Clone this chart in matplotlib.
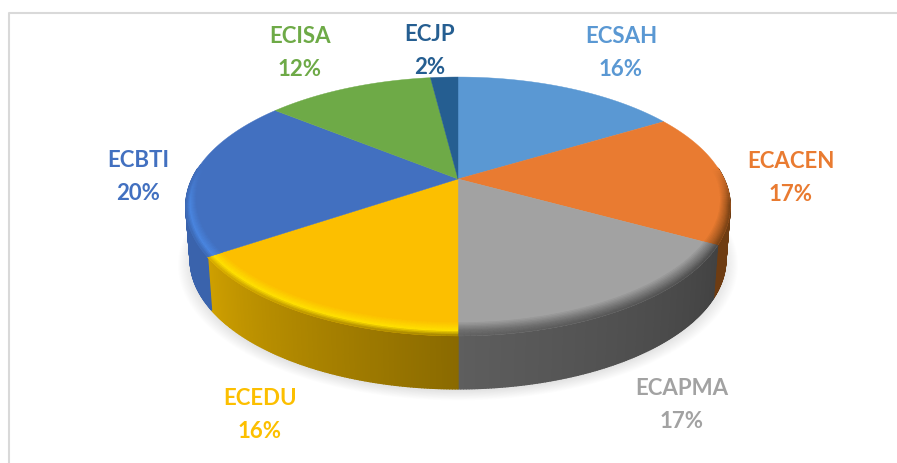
import numpy as np
import matplotlib
matplotlib.use('Agg')
import matplotlib.pyplot as plt
from matplotlib.collections import PolyCollection
from matplotlib.colors import to_rgb
from matplotlib.patches import Polygon

names = ['ECSAH', 'ECACEN', 'ECAPMA', 'ECEDU', 'ECBTI', 'ECISA', 'ECJP']
values = [16.4, 16.6, 17.0, 15.6, 20.2, 12.2, 2.0]
face_colors = ['#5A98D3', '#E97B31', '#A2A2A2', '#FCBF00', '#4270C0', '#6EAA47', '#255E91']
rim_colors = ['#5A98D3', '#A85A20', '#6E6E6E', '#FFE000', '#4A86E0', '#6EAA47', '#255E91']
wall_left = ['#3A6A96', '#6E3C12', '#5E5E5E', '#CFA000', '#3A63AC', '#4A7030', '#1A4060']
wall_right = ['#3A6A96', '#6E3C12', '#424242', '#8A6A00', '#3A63AC', '#4A7030', '#1A4060']
label_pos = [(621, 53), (791, 178), (682, 405), (260, 415), (138, 177), (300, 53), (430, 51)]

# perspective disk, angle runs clockwise from 12 o'clock
cx, cy = 458, 180
persp = 0.212
fx, fy = 266, 123.6
depth = 53


def top_pt(theta, r=1.0):
    u = r * np.sin(theta)
    v = r * np.cos(theta)
    w = 1 + persp * v
    return cx + fx * u / w, cy - fy * v / w


def bottom_pt(theta):
    x, y = top_pt(theta)
    return cx + (x - cx) * 0.984, y + depth


def wall_color(i, t):
    a, b = np.array(to_rgb(wall_left[i])), np.array(to_rgb(wall_right[i]))
    f = (t - edges[i]) / (edges[i + 1] - edges[i])
    return b * (1 - f) + a * f


def rim_inner(t):
    # bevel is wider at the front than at the sides
    return 1 - (0.03 + 0.045 * max(-np.cos(t), 0))


fig = plt.figure(figsize=(8.97, 4.64), dpi=100)
ax = fig.add_axes([0, 0, 1, 1])
ax.set_xlim(0, 897)
ax.set_ylim(464, 0)
ax.axis('off')

# panel border
ax.plot([8.5, 8.5, 897], [464, 14, 14], color='#D9D9D9', lw=1.5, zorder=1)

edges = np.cumsum([0] + values) / sum(values) * 2 * np.pi

# soft shadow under the pie
all_t = np.linspace(0, 2 * np.pi, 240)
bx, by = bottom_pt(all_t)
for grow in np.linspace(1.045, 0.995, 14):
    sx = cx + (bx - cx) * grow
    sy = 200 + (by - 200) * grow + 3
    ax.add_patch(Polygon(np.c_[sx, sy], closed=True, fc='#808080', ec='none', alpha=0.016, zorder=2))

# side wall, only the front half shows
wall_polys, wall_cols = [], []
for i in range(len(values)):
    lo, hi = max(edges[i], np.radians(85)), min(edges[i + 1], np.radians(275))
    if hi <= lo:
        continue
    steps = np.linspace(lo, hi, max(int((hi - lo) * 120), 2))
    for t0, t1 in zip(steps[:-1], steps[1:]):
        x0, y0 = top_pt(t0)
        x1, y1 = top_pt(t1)
        x2, y2 = bottom_pt(t1)
        x3, y3 = bottom_pt(t0)
        wall_polys.append([(x0, y0), (x1, y1), (x2, y2), (x3, y3)])
        wall_cols.append(wall_color(i, t0))
ax.add_collection(PolyCollection(wall_polys, facecolors=wall_cols, edgecolors=wall_cols, linewidths=1.0, zorder=3))

# top face
for i in range(len(values)):
    steps = np.linspace(edges[i], edges[i + 1], 80)
    x, y = top_pt(steps)
    pts = np.vstack([[cx, cy], np.c_[x, y]])
    ax.add_patch(Polygon(pts, closed=True, fc=face_colors[i], ec=face_colors[i], lw=0.3, zorder=4))

# bevel along the front edge of the top face
rim_polys, rim_cols = [], []
fracs = np.linspace(0, 1, 11)
for i in range(len(values)):
    steps = np.linspace(edges[i], edges[i + 1], 60)
    face = np.array(to_rgb(face_colors[i]))
    rim = np.array(to_rgb(rim_colors[i]))
    for t0, t1 in zip(steps[:-1], steps[1:]):
        strength = np.clip((0.1 - np.cos(t0)) / 0.3, 0, 1)
        if strength == 0:
            continue
        wall = wall_color(i, t0)
        r_in0, r_in1 = rim_inner(t0), rim_inner(t1)
        for f0, f1 in zip(fracs[:-1], fracs[1:]):
            x0, y0 = top_pt(t0, r_in0 + (1 - r_in0) * f0)
            x1, y1 = top_pt(t1, r_in1 + (1 - r_in1) * f0)
            x2, y2 = top_pt(t1, r_in1 + (1 - r_in1) * f1)
            x3, y3 = top_pt(t0, r_in0 + (1 - r_in0) * f1)
            rim_polys.append([(x0, y0), (x1, y1), (x2, y2), (x3, y3)])
            if f0 < 0.6:
                c = face + (rim - face) * f0 / 0.6
            else:
                c = rim + (wall - rim) * (f0 - 0.6) / 0.4
            rim_cols.append(face * (1 - strength) + c * strength)
ax.add_collection(PolyCollection(rim_polys, facecolors=rim_cols, edgecolors=rim_cols, linewidths=0.4, zorder=5))

# labels
for name, val, col, (lx, ly) in zip(names, values, face_colors, label_pos):
    ax.text(lx, ly, f'{name}\n{val:.0f}%', color=col, family='Lato', fontweight='bold', fontsize=16,
            ha='center', va='center', linespacing=1.65, zorder=6)

fig.savefig('out.png', dpi=100)
plt.close(fig)
